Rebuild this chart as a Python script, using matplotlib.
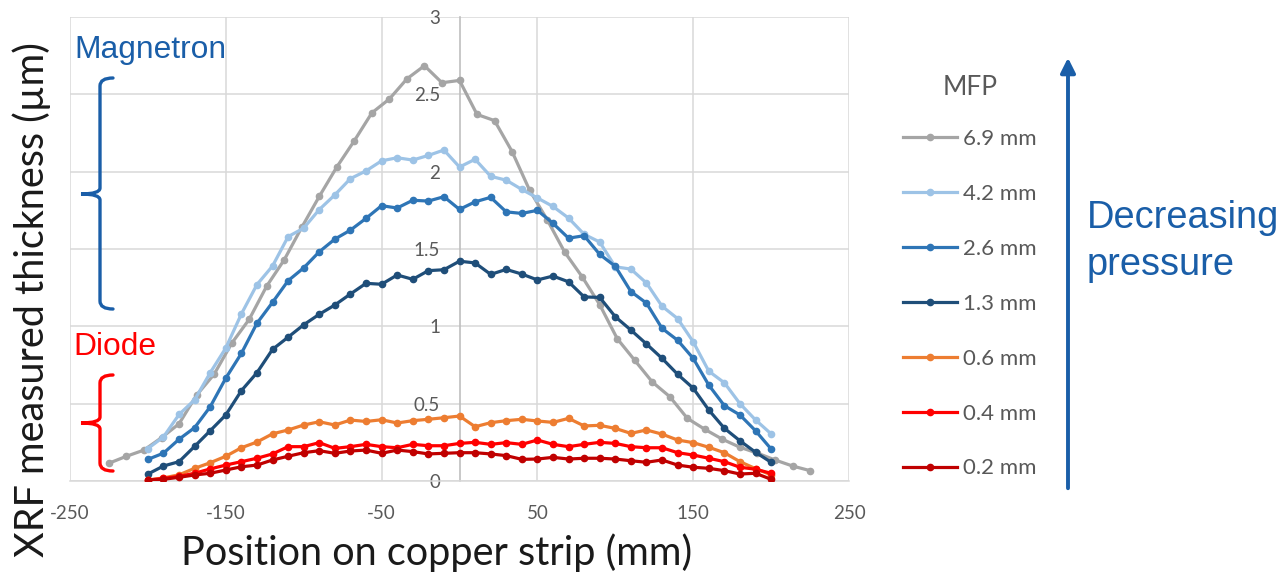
import matplotlib
matplotlib.use('Agg')
import matplotlib.pyplot as plt
from matplotlib.path import Path
from matplotlib.patches import PathPatch

W, H = 1281, 578

# positions (mm): the 6.9 mm run was scanned over a wider span
pos_wide = [-225 + 11.25 * k for k in range(41)]
pos = list(range(-200, 201, 10))

mfp_69 = [0.115, 0.16, 0.20, 0.28, 0.37, 0.555, 0.69, 0.89, 1.045, 1.26,
          1.43, 1.64, 1.84, 2.03, 2.20, 2.38, 2.47, 2.60, 2.685, 2.575,
          2.59, 2.37, 2.33, 2.13, 1.88, 1.69, 1.48, 1.32, 1.14, 0.92,
          0.78, 0.64, 0.545, 0.405, 0.334, 0.27, 0.218, 0.18, 0.136, 0.097,
          0.067]
mfp_42 = [0.21, 0.285, 0.43, 0.525, 0.70, 0.86, 1.08, 1.27, 1.39, 1.58,
          1.635, 1.755, 1.85, 1.955, 2.005, 2.07, 2.09, 2.075, 2.105, 2.14,
          2.03, 2.08, 1.97, 1.945, 1.885, 1.83, 1.775, 1.70, 1.595, 1.545,
          1.385, 1.37, 1.28, 1.13, 1.05, 0.90, 0.71, 0.635, 0.50, 0.395,
          0.305]
mfp_26 = [0.14, 0.18, 0.27, 0.345, 0.48, 0.665, 0.825, 1.02, 1.155, 1.295,
          1.378, 1.482, 1.564, 1.622, 1.698, 1.78, 1.765, 1.815, 1.81, 1.838,
          1.756, 1.805, 1.834, 1.74, 1.73, 1.75, 1.666, 1.57, 1.586, 1.465,
          1.388, 1.225, 1.15, 0.987, 0.91, 0.793, 0.62, 0.487, 0.427, 0.325,
          0.207]
mfp_13 = [0.045, 0.097, 0.125, 0.224, 0.325, 0.427, 0.584, 0.70, 0.851, 0.93,
          1.01, 1.078, 1.138, 1.209, 1.278, 1.272, 1.332, 1.304, 1.36, 1.366,
          1.421, 1.41, 1.336, 1.368, 1.338, 1.30, 1.325, 1.288, 1.19, 1.187,
          1.062, 0.976, 0.886, 0.793, 0.69, 0.60, 0.459, 0.341, 0.26, 0.186,
          0.121]
mfp_06 = [0.006, 0.02, 0.04, 0.082, 0.118, 0.16, 0.215, 0.252, 0.305, 0.33,
          0.362, 0.383, 0.362, 0.394, 0.385, 0.396, 0.375, 0.39, 0.399, 0.409,
          0.42, 0.351, 0.377, 0.39, 0.399, 0.388, 0.379, 0.405, 0.356, 0.36,
          0.34, 0.308, 0.33, 0.303, 0.265, 0.248, 0.218, 0.183, 0.125, 0.08,
          0.04]
mfp_04 = [0.006, 0.017, 0.03, 0.05, 0.078, 0.103, 0.125, 0.147, 0.175, 0.222,
          0.222, 0.248, 0.211, 0.222, 0.237, 0.222, 0.215, 0.237, 0.228, 0.228,
          0.243, 0.25, 0.237, 0.248, 0.237, 0.265, 0.237, 0.222, 0.237, 0.25,
          0.243, 0.222, 0.215, 0.215, 0.183, 0.168, 0.147, 0.125, 0.089, 0.076,
          0.05]
mfp_02 = [0.006, 0.011, 0.024, 0.039, 0.05, 0.071, 0.092, 0.103, 0.136, 0.16,
          0.183, 0.196, 0.179, 0.194, 0.2, 0.179, 0.2, 0.19, 0.175, 0.179,
          0.183, 0.183, 0.175, 0.164, 0.14, 0.142, 0.153, 0.142, 0.147, 0.147,
          0.142, 0.131, 0.121, 0.136, 0.103, 0.089, 0.082, 0.067, 0.045, 0.05,
          0.011]

labels = ['6.9 mm', '4.2 mm', '2.6 mm', '1.3 mm', '0.6 mm', '0.4 mm', '0.2 mm']
colors = ['#A5A5A5', '#9DC3E6', '#2E75B6', '#1F4E79', '#ED7D31', '#FF0000', '#C00000']
xs = [pos_wide, pos, pos, pos, pos, pos, pos]
ys = [mfp_69, mfp_42, mfp_26, mfp_13, mfp_06, mfp_04, mfp_02]

xticks = [-250, -150, -50, 50, 150, 250]
yticks = [0, 0.5, 1, 1.5, 2, 2.5, 3]
ytick_labels = ['0', '0.5', '1', '1.5', '2', '2.5', '3']

plt.rcParams['font.family'] = ['Lato', 'DejaVu Sans']
blue = '#1A5EA8'
tick_col = '#595959'


def fx(x):
    return x / W


def fy(y):
    return 1 - y / H


fig = plt.figure(figsize=(W / 100, H / 100), dpi=100)
ax = fig.add_axes([fx(70), fy(481), (849 - 70) / W, (481 - 17) / H])

handles = []
for x, y, c, lab in zip(xs, ys, colors, labels):
    h, = ax.plot(x, y, color=c, lw=2.3, marker='o', ms=4.5, label=lab,
                 solid_joinstyle='round', zorder=3)
    handles.append(h)

ax.set_xlim(-250, 250)
ax.set_ylim(0, 3)
ax.set_xticks(xticks)
ax.set_xticklabels([str(t) for t in xticks])
ax.set_yticks(yticks)
ax.set_yticklabels(ytick_labels)
ax.grid(True, color='#D9D9D9', lw=1.1, zorder=0)
ax.set_axisbelow(True)
for s in ['top', 'right']:
    ax.spines[s].set_visible(False)
ax.spines['left'].set_position(('data', 0))
ax.spines['left'].set_color('#BFBFBF')
ax.spines['left'].set_linewidth(1.2)
ax.spines['bottom'].set_color('#D9D9D9')
ax.spines['bottom'].set_linewidth(1.1)
ax.tick_params(length=0, labelsize=13.5, colors=tick_col)
ax.tick_params(axis='y', pad=14)
ax.tick_params(axis='x', pad=17)

fig.text(fx(437), fy(553), 'Position on copper strip (mm)', fontsize=28.5,
         ha='center', va='center', color='#1a1a1a')
fig.text(fx(32), fy(300), 'XRF measured thickness (\u00b5m)', fontsize=28.5,
         ha='center', va='center', rotation=90, color='#1a1a1a')

leg = fig.legend(handles=handles, loc='upper left', bbox_to_anchor=(fx(894), fy(66)),
                 frameon=False, title='MFP', fontsize=16, title_fontsize=19,
                 handlelength=2.45, handletextpad=0.25, labelspacing=1.57,
                 borderaxespad=0)
leg._legend_box.sep = 21
for t in leg.get_texts():
    t.set_color(tick_col)
leg.get_title().set_color(tick_col)

# arrow and group annotations
ax.annotate('', xy=(1068, H - 55), xytext=(1068, H - 491),
            xycoords='figure pixels', textcoords='figure pixels',
            arrowprops=dict(arrowstyle='-|>', color=blue, lw=2.8, mutation_scale=22))
fig.text(fx(1087), fy(218), 'Decreasing', fontsize=27.4, color=blue, ha='left',
         va='center', family='Liberation Sans')
fig.text(fx(1087), fy(265), 'pressure', fontsize=27.4, color=blue, ha='left',
         va='center', family='Liberation Sans')
fig.text(fx(74), fy(50), 'Magnetron', fontsize=22.9, color=blue, ha='left',
         va='center', family='Liberation Sans')
fig.text(fx(73), fy(347), 'Diode', fontsize=22.9, color='#FF0000', ha='left',
         va='center', family='Liberation Sans')


def brace(top, mid, bot, color):
    pts = [(113, top), (100, top), (100, top + 8), (100, mid - 6),
           (100, mid), (81, mid), (100, mid), (100, mid + 6),
           (100, bot - 8), (100, bot), (113, bot)]
    codes = [Path.MOVETO, Path.CURVE3, Path.CURVE3, Path.LINETO,
             Path.CURVE3, Path.CURVE3, Path.CURVE3, Path.CURVE3,
             Path.LINETO, Path.CURVE3, Path.CURVE3]
    p = Path([(fx(a), fy(b)) for a, b in pts], codes)
    fig.add_artist(PathPatch(p, fill=False, edgecolor=color, lw=2.4,
                             transform=fig.transFigure, capstyle='round'))


brace(78, 194, 309, blue)
brace(375, 423, 471, '#FF0000')

fig.savefig('out.png', dpi=100)
